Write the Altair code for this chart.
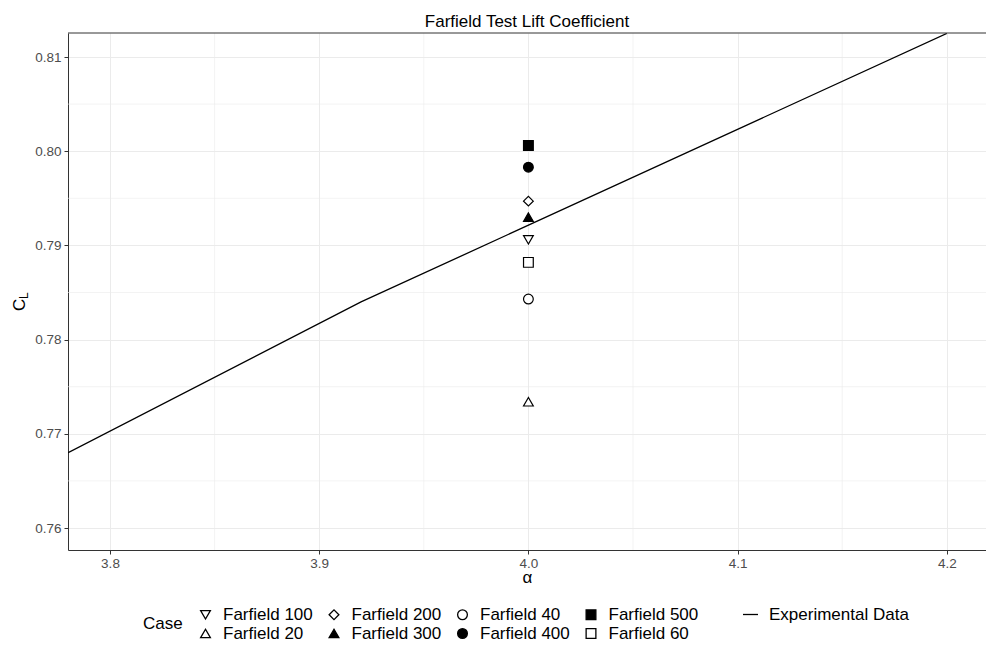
import altair as alt
import pandas as pd

# Farfield cases evaluated at alpha = 4.0
cases = ["Farfield 20", "Farfield 40", "Farfield 60", "Farfield 100",
         "Farfield 200", "Farfield 300", "Farfield 400", "Farfield 500"]
case_alpha = [4.0, 4.0, 4.0, 4.0, 4.0, 4.0, 4.0, 4.0]
case_cl = [0.7734, 0.7843, 0.7882, 0.7906, 0.7947, 0.7930, 0.7983, 0.8006]

# Experimental lift curve
exp_alpha = [3.78, 3.92, 4.20]
exp_cl = [0.768, 0.784, 0.8125]

# Axis ticks and minor grid positions
x_major = [3.8, 3.9, 4.0, 4.1, 4.2]
x_minor = [3.85, 3.95, 4.05, 4.15]
y_major = [0.76, 0.77, 0.78, 0.79, 0.80, 0.81]
y_minor = [0.765, 0.775, 0.785, 0.795, 0.805]

# Legend order (alphabetical, filled column by column)
legend_order = ["Farfield 100", "Farfield 20", "Farfield 200", "Farfield 300",
                "Farfield 40", "Farfield 400", "Farfield 500", "Farfield 60"]
shape_range = ["triangle-down", "triangle-up", "diamond", "triangle-up",
               "circle", "circle", "square", "square"]
fill_range = ["white", "white", "white", "black",
              "white", "black", "black", "white"]
stroke_range = ["black"] * 8
size_range = [95, 95, 60, 95, 50, 50, 56, 56]

W, H = 918, 517
FONT = "Liberation Sans"

points_df = pd.DataFrame({"alpha": case_alpha, "cl": case_cl, "Case": cases})
exp_df = pd.DataFrame({"alpha": exp_alpha, "cl": exp_cl,
                       "series": ["Experimental Data"] * len(exp_alpha)})
xminor_df = pd.DataFrame({"alpha": x_minor})
yminor_df = pd.DataFrame({"cl": y_minor})

xscale = alt.Scale(domain=[3.77992, 4.21874], nice=False, zero=False)
yscale = alt.Scale(domain=[0.757665, 0.812548], nice=False, zero=False)

xaxis = alt.Axis(values=x_major, format=".1f", labelPadding=2, title="α",
                 titleFontSize=17, titleFont=FONT, titleColor="black",
                 titleFontWeight="normal", titleBaseline="alphabetic", titleY=32)
yaxis = alt.Axis(values=y_major, format=".2f", labelPadding=3, title="")

def xenc():
    return alt.X("alpha:Q", scale=xscale, axis=xaxis, title="α")

def yenc():
    return alt.Y("cl:Q", scale=yscale, axis=yaxis, title="")

case_legend = alt.Legend(
    title="Case", orient="none", legendX=75, legendY=573, columns=4,
    titleOrient="left", titleAnchor="middle", titleFontSize=17,
    titleFont=FONT, titleFontWeight="normal", titleColor="black",
    titlePadding=14, labelFontSize=17, labelFont=FONT, labelColor="black",
    labelOffset=9, columnPadding=12.5, rowPadding=1,
    symbolStrokeColor="black", symbolStrokeWidth=1.3,
)

minor_v = alt.Chart(xminor_df).mark_rule(color="#EBEBEB", strokeWidth=0.6).encode(x=xenc())
minor_h = alt.Chart(yminor_df).mark_rule(color="#EBEBEB", strokeWidth=0.6).encode(y=yenc())

line = alt.Chart(exp_df).mark_line(strokeWidth=1.3, clip=True).encode(
    x=xenc(), y=yenc(),
    color=alt.Color("series:N",
                    scale=alt.Scale(domain=["Experimental Data"], range=["black"]),
                    legend=alt.Legend(title="", orient="none", legendX=674, legendY=573,
                                      symbolType="stroke", symbolSize=225,
                                      symbolStrokeWidth=1.3, labelFontSize=17,
                                      labelFont=FONT, labelColor="black", labelOffset=10)),
)

points = alt.Chart(points_df).mark_point(filled=True, strokeWidth=1.2, opacity=1).encode(
    x=xenc(), y=yenc(),
    shape=alt.Shape("Case:N", scale=alt.Scale(domain=legend_order, range=shape_range),
                    legend=case_legend),
    fill=alt.Fill("Case:N", scale=alt.Scale(domain=legend_order, range=fill_range),
                  legend=case_legend),
    stroke=alt.Stroke("Case:N", scale=alt.Scale(domain=legend_order, range=stroke_range),
                      legend=case_legend),
    size=alt.Size("Case:N", scale=alt.Scale(domain=legend_order, range=size_range),
                  legend=case_legend),
)

top_border = alt.Chart(pd.DataFrame({"k": [0]})).mark_rule(
    color="#333333", strokeWidth=1).encode(x=alt.value(0), x2=alt.value(W), y=alt.value(0))

# y-axis title C with subscript L
c_text = alt.Chart(pd.DataFrame({"t": ["C"]})).mark_text(
    font=FONT, fontSize=17, angle=270, align="left", baseline="alphabetic", color="black"
).encode(text="t:N", x=alt.value(-43), y=alt.value(278))
l_text = alt.Chart(pd.DataFrame({"t": ["L"]})).mark_text(
    font=FONT, fontSize=12, angle=270, align="left", baseline="alphabetic", color="black"
).encode(text="t:N", x=alt.value(-40), y=alt.value(266))

chart = alt.layer(minor_v, minor_h, line, points, top_border, c_text, l_text).resolve_scale(
    shape="shared", fill="shared", size="shared", stroke="shared"
).properties(
    width=W, height=H,
    title=alt.TitleParams("Farfield Test Lift Coefficient", fontSize=17, font=FONT,
                          fontWeight="normal", color="black", anchor="middle",
                          frame="group", baseline="alphabetic", offset=-11),
    padding={"left": 68, "top": 33, "right": 0, "bottom": 98},
    autosize=alt.AutoSizeParams(type="none"),
).configure_view(strokeWidth=0).configure_axis(
    labelFont=FONT, labelFontSize=13.5, labelColor="#4D4D4D",
    tickColor="#333333", tickSize=4, domainColor="#333333", domainWidth=1,
    gridColor="#EBEBEB", gridWidth=1,
)

chart.save("out.html", embed_options={"renderer": "svg", "actions": False})
